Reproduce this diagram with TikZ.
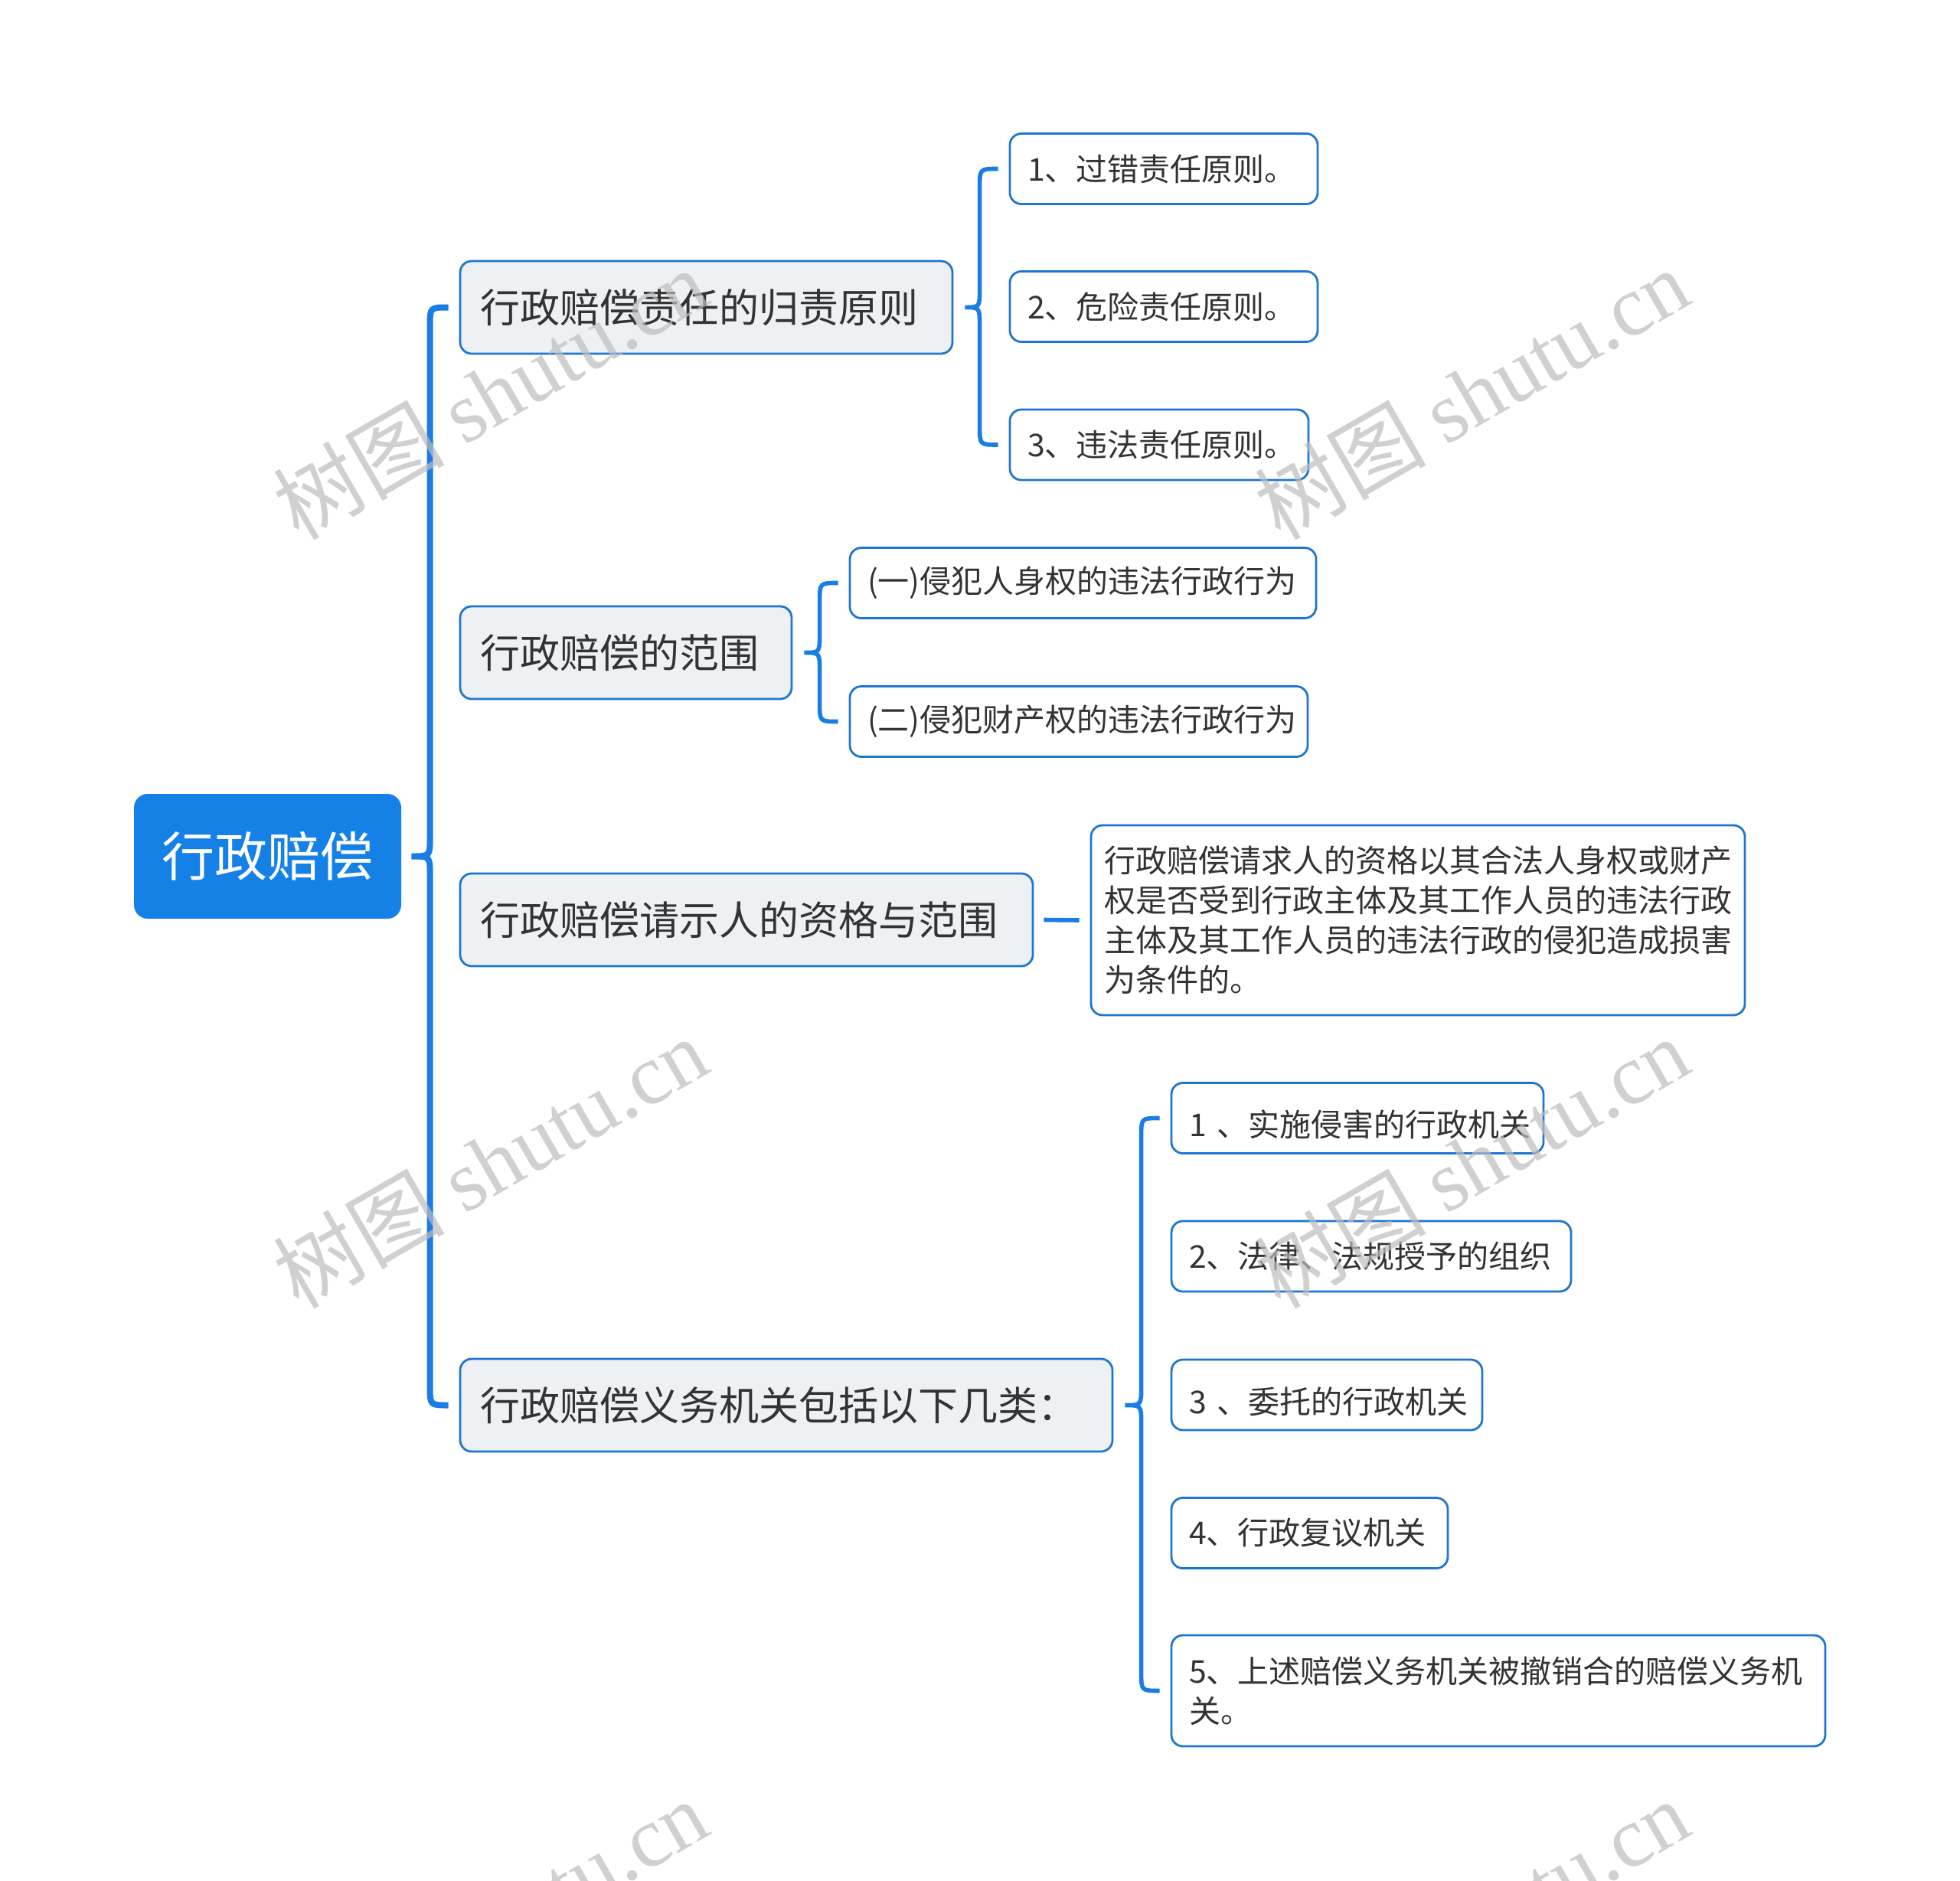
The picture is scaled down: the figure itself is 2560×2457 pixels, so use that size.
\documentclass[tikz,border=0pt]{standalone}
\usepackage{fontspec}
\setmainfont{Noto Sans CJK SC}
\newfontfamily\wmserif{Liberation Serif}
\newfontfamily\wmcjk{Noto Sans CJK SC}
\usetikzlibrary{calc}
\definecolor{connblue}{HTML}{1A7DE6}
\definecolor{rootfill}{HTML}{1580E6}
\definecolor{bordblue}{HTML}{1E76D0}
\definecolor{lonefill}{HTML}{EEF1F4}
\definecolor{txtgray}{HTML}{333333}
\definecolor{wmgray}{HTML}{BDBDBD}
\tikzset{
  rootbox/.style={fill=rootfill, rounded corners=9pt, text=white,
    font=\fontsize{34.5pt}{40pt}\selectfont, minimum width=174.5pt,
    minimum height=81.5pt, inner sep=0pt},
  lonebox/.style={draw=bordblue, line width=1.4pt, fill=lonefill,
    rounded corners=7.5pt, text=txtgray, font=\fontsize{26pt}{32pt}\selectfont,
    minimum height=60.5pt, inner xsep=13pt, inner ysep=0pt, align=left},
  ltwobox/.style={draw=bordblue, line width=1.4pt, fill=white,
    rounded corners=7.5pt, text=txtgray, font=\fontsize{20.5pt}{26pt}\selectfont,
    minimum height=46pt, inner xsep=11.5pt, inner ysep=0pt, align=left},
  rootline/.style={draw=connblue, line width=4pt},
  subline/.style={draw=connblue, line width=2.8pt},
  wmark/.style={text=wmgray, opacity=0.7, rotate=30, inner sep=0pt}
}
\newcommand\mybrace[5]{%
  \coordinate (bt) at ($(#2.east)+(#5,0)$);
  \coordinate (ba) at ($(#3.west)+(-14,0)$);
  \coordinate (bd) at ($(#4.west)+(-14,0)$);
  \coordinate (bs) at ($(ba)+(-24,0)$);
  \draw[#1] (ba) .. controls (bs) .. ($(bs)+(0,24)$)
    -- ($(bs|-bt)+(0,-24)$) .. controls (bs|-bt) .. (bt)
    .. controls (bs|-bt) .. ($(bs|-bt)+(0,24)$)
    -- ($(bs|-bd)+(0,-24)$) .. controls (bs|-bd) .. (bd);
}
\newcommand\wmtext{{\wmcjk 树图} {\wmserif shutu.cn}}
\begin{document}
\begin{tikzpicture}[x=0.5pt,y=-0.5pt]
\useasboundingbox (0,0) rectangle (2560,2457);
\fill[white] (0,0) rectangle (2560,2457);

% root
\node[rootbox] (root) at (349.5,1118.5) {行政赔偿};

% level 1
\node[lonebox, text width=295.5pt] (L1a) at (922.5,401.5) {行政赔偿责任的归责原则};
\node[lonebox, text width=190.5pt] (L1b) at (817.5,852.5) {行政赔偿的范围};
\node[lonebox, text width=348pt] (L1c) at (975,1201.5) {行政赔偿请示人的资格与范围};
\node[lonebox, text width=400pt] (L1d) at (1027,1835.5) {行政赔偿义务机关包括以下几类：};

% level 2
\node[ltwobox, text width=178pt] (A1) at (1520,220.5) {1、过错责任原则。};
\node[ltwobox, text width=178pt] (A2) at (1520,400.5) {2、危险责任原则。};
\node[ltwobox, text width=172pt] (A3) at (1514,581) {3、违法责任原则。};

\node[ltwobox, text width=281.5pt] (B1) at (1414.5,761.5) {(一)侵犯人身权的违法行政行为};
\node[ltwobox, text width=276pt] (B2) at (1409,942.5) {(二)侵犯财产权的违法行政行为};

\node[ltwobox, text width=410pt, inner xsep=8.5pt, minimum height=124pt] (C1) at (1852,1202)
  {行政赔偿请求人的资格以其合法人身权或财产\\权是否受到行政主体及其工作人员的违法行政\\主体及其工作人员的违法行政的侵犯造成损害\\为条件的。};

\node[ltwobox, text width=220pt] (D1) at (1773,1460.5) {\hspace{2pt}1~、实施侵害的行政机关};
\node[ltwobox, text width=238pt] (D2) at (1791,1641) {2、法律、法规授予的组织};
\node[ltwobox, text width=180pt] (D3) at (1733,1822) {\hspace{2pt}3~、委托的行政机关};
\node[ltwobox, text width=157.5pt] (D4) at (1710.5,2002.5) {4、行政复议机关};
\node[ltwobox, text width=404pt, minimum height=72.5pt] (D5) at (1957,2208.5)
  {5、上述赔偿义务机关被撤销合的赔偿义务机\\关。};

% connectors
\mybrace{rootline}{root}{L1a}{L1d}{13}
\mybrace{subline}{L1a}{A1}{A3}{15}
\mybrace{subline}{L1b}{B1}{B2}{15}
\mybrace{subline}{L1d}{D1}{D5}{15}
\draw[subline] ($(L1c.east)+(13,0)$) -- ($(C1.west)+(-14,0)$);

% watermarks
\foreach \wx in {640,1922}{
  \foreach \wy in {514,1518,2514}{
    \node[wmark, font=\fontsize{56pt}{60pt}\selectfont] at (\wx,\wy) {\wmtext};
  }
}
\end{tikzpicture}
\end{document}
